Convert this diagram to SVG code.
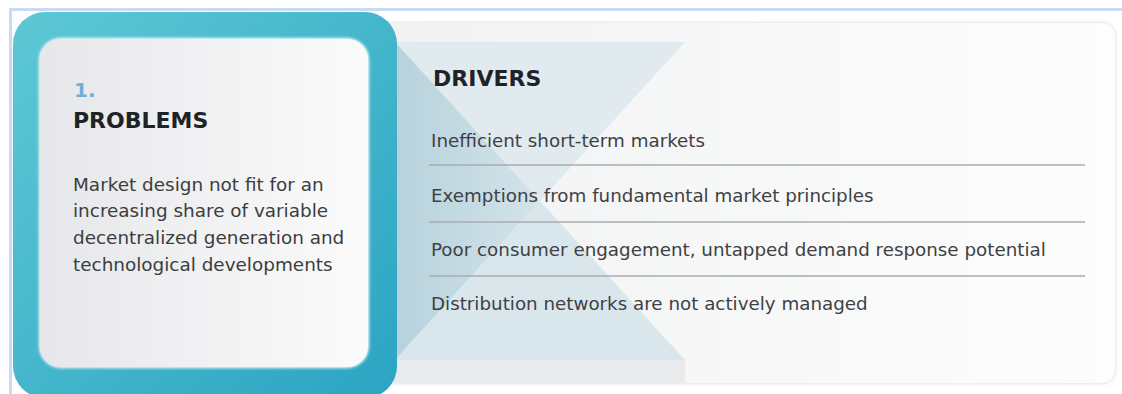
<svg xmlns="http://www.w3.org/2000/svg" width="1122" height="394" viewBox="0 0 1122 394">
  <defs>
    <linearGradient id="teal" x1="0" y1="0" x2="1" y2="1">
      <stop offset="0" stop-color="#5ec8d4"/>
      <stop offset="1" stop-color="#2ba4c3"/>
    </linearGradient>
    <linearGradient id="card" x1="0" y1="0" x2="1" y2="0">
      <stop offset="0" stop-color="#e6e7ea"/>
      <stop offset="1" stop-color="#fbfbfb"/>
    </linearGradient>
    <linearGradient id="panel" x1="0" y1="0" x2="1" y2="0">
      <stop offset="0" stop-color="#f1f2f3"/>
      <stop offset="1" stop-color="#fdfdfd"/>
    </linearGradient>
    <linearGradient id="leftTri" x1="0" y1="0" x2="1" y2="0">
      <stop offset="0" stop-color="#b7d2dc"/>
      <stop offset="1" stop-color="#d3e3ea"/>
    </linearGradient>
    <filter id="soft" x="-5%" y="-5%" width="110%" height="110%">
      <feGaussianBlur stdDeviation="1.5"/>
    </filter>
    <style>
      .h { font-family: "DejaVu Sans", sans-serif; font-weight: bold; font-size: 22px; fill: #1f2326; }
      .num { font-family: "DejaVu Sans", sans-serif; font-weight: bold; font-size: 20px; fill: #6fb0d8; }
      .body { font-family: "DejaVu Sans", sans-serif; font-size: 18.4px; fill: #3b3d40; }
      .item { font-family: "DejaVu Sans", sans-serif; font-size: 18.3px; fill: #3e4144; }
      .sep { stroke: #a9adb0; stroke-width: 1.5; }
    </style>
  </defs>

  <rect width="1122" height="394" fill="#ffffff"/>
  <!-- outer light-blue frame -->
  <path d="M10.5 394 V9.5 H1122" fill="none" stroke="#c8dbf2" stroke-width="3"/>

  <g id="drivers">
    <rect x="380" y="22" width="736" height="362" rx="14" fill="#e4e4e4" filter="url(#soft)"/>
    <rect x="380" y="23" width="735" height="360" rx="13" fill="url(#panel)"/>
    <polygon points="395,42 685,42 540,201" fill="#e0eaef"/>
    <polygon points="395,42 540,201 395,360" fill="url(#leftTri)"/>
    <polygon points="395,360 540,201 685,360" fill="#d9e7ed"/>
    <rect x="380" y="360" width="305" height="23" fill="#eaebec"/>
    <text class="h" x="433" y="86">DRIVERS</text>
    <text class="item" x="431" y="147">Inefficient short-term markets</text>
    <line class="sep" x1="429" y1="165" x2="1085" y2="165"/>
    <text class="item" x="431" y="202">Exemptions from fundamental market principles</text>
    <line class="sep" x1="429" y1="222" x2="1085" y2="222"/>
    <text class="item" x="431" y="256">Poor consumer engagement, untapped demand response potential</text>
    <line class="sep" x1="429" y1="276" x2="1085" y2="276"/>
    <text class="item" x="431" y="310">Distribution networks are not actively managed</text>
  </g>

  <g id="problems">
    <rect x="13" y="12" width="384" height="386" rx="32" fill="url(#teal)"/>
    <rect x="39" y="38" width="330" height="330" rx="22" fill="#ffffff" filter="url(#soft)"/>
    <rect x="40" y="39" width="328" height="328" rx="21" fill="url(#card)"/>
    <text class="num" x="74" y="97">1.</text>
    <text class="h" x="73" y="128">PROBLEMS</text>
    <text class="body" x="73" y="191">Market design not fit for an</text>
    <text class="body" x="73" y="217">increasing share of variable</text>
    <text class="body" x="73" y="244">decentralized generation and</text>
    <text class="body" x="73" y="271">technological developments</text>
  </g>

  <g id="connectors"/>
</svg>
